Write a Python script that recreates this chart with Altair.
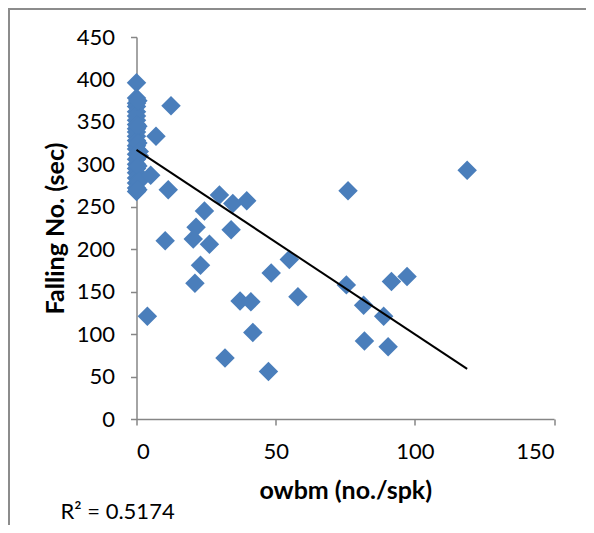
import altair as alt
import pandas as pd

# Points
owbm = [
    0, 0, 0, 0, 0, 0, 0, 0, 0, 0, 0, 0, 0, 0, 0, 0, 0, 0, 0, 0, 0, 0, 0,
    0.5, 0.5, 0.5, 1, 0.5, 1, 0.5, 1,
    7.0, 5.1, 12.4, 11.4, 10.3, 3.9,
    29.8, 34.6, 39.6, 24.4, 21.4, 34.0, 20.4, 26.2, 23.0, 21.0,
    54.9, 48.4, 37.2, 41.1, 58.0, 41.8, 31.8, 47.4,
    76.0, 75.4, 81.6, 88.8, 81.9, 90.4, 91.6, 97.2, 118.8,
]
falling = [
    396, 378, 372, 368, 362, 357, 352, 347, 342, 338, 333, 328, 322, 318, 312, 306, 300, 295, 290, 284, 278, 272, 268,
    375, 345, 325, 310, 298, 280, 270, 315,
    333, 287, 369, 270, 210, 121,
    264, 254, 257, 245, 226, 223, 212, 206, 181, 160,
    188, 172, 139, 138, 144, 102, 72, 56,
    269, 158, 134, 121, 92, 85, 162, 168, 293,
]
trend_x = [0, 118.8]
trend_y = [317, 59]
r2_label = ["R\u00b2 = 0.5174"]

FONT = "Lato"
BLUE = "#4A7EBB"
GRAY = "#868686"

pts = pd.DataFrame({"owbm": owbm, "falling": falling})
trend = pd.DataFrame({"owbm": trend_x, "falling": trend_y})
txt = pd.DataFrame({"label": r2_label})

xs = alt.Scale(domain=[0, 150], nice=False, zero=False)
ys = alt.Scale(domain=[0, 450], nice=False, zero=False)

points = alt.Chart(pts).mark_point(
    shape="diamond", filled=True, size=380, color=BLUE, opacity=1
).encode(
    x=alt.X("owbm:Q", scale=xs, title="owbm (no./spk)",
            axis=alt.Axis(values=[0, 50, 100, 150], grid=False, tickSize=6,
                          labelPadding=16, titlePadding=16)),
    y=alt.Y("falling:Q", scale=ys, title="Falling No. (sec)",
            axis=alt.Axis(values=list(range(0, 451, 50)), grid=False, tickSize=6,
                          labelPadding=16, titlePadding=8)),
)

line = alt.Chart(trend).mark_line(color="black", strokeWidth=2).encode(
    x=alt.X("owbm:Q", scale=xs),
    y=alt.Y("falling:Q", scale=ys),
)

r2 = alt.Chart(txt).mark_text(
    align="left", baseline="middle", font=FONT, fontSize=22, color="black"
).encode(x=alt.value(-76), y=alt.value(475), text="label:N")

frame = alt.Chart(txt).mark_rect(
    fillOpacity=0, stroke="#8c8c8c", strokeWidth=2
).encode(x=alt.value(-127.5), y=alt.value(-28), x2=alt.value(800), y2=alt.value(800))

chart = alt.layer(points, line, r2, frame).properties(
    width=417.5, height=382,
    autosize=alt.AutoSizeParams(type="none"),
    padding={"left": 128.5, "top": 29, "right": 32, "bottom": 106},
).configure_view(stroke=None).configure_axis(
    domainColor=GRAY, tickColor=GRAY, domainWidth=1.5, tickWidth=1.5,
    labelFont=FONT, labelFontSize=22, labelColor="black",
    titleFont=FONT, titleFontSize=25, titleFontWeight="bold", titleColor="black",
)

chart.save("out.html", embed_options={"renderer": "svg", "actions": False})
